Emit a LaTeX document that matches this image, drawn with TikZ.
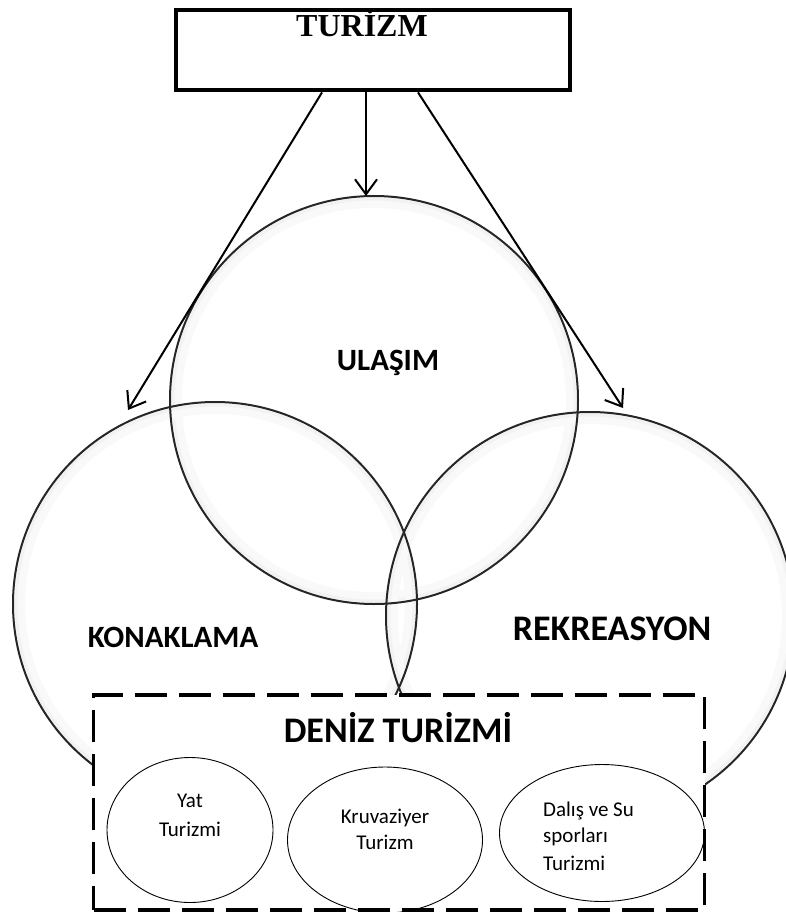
\documentclass[tikz,border=0pt]{standalone}
\usepackage{fontspec}
\setmainfont{Liberation Serif}
\newfontfamily\calibri{Carlito}
\usetikzlibrary{arrows.meta}
\usetikzlibrary{shapes.geometric}

\tikzset{
    venn/.style={circle,draw=black!85,line width=2pt,inner sep=0pt},
    glow/.style={gray!5,line width=10pt},
    headbox/.style={rectangle,draw,line width=4.8pt,inner sep=0pt,minimum width=394pt,minimum height=80pt},
    seabox/.style={rectangle,draw,fill=white,line width=3.8pt,dash pattern=on 32pt off 12pt,inner sep=0pt,minimum width=611pt,minimum height=215pt},
    kind/.style={ellipse,draw,line width=0.9pt,inner sep=0pt},
    pointer/.style={-{Straight Barb[length=15pt,width=22pt]},line width=2pt},
    biglabel/.style={anchor=base,font=\calibri\bfseries\fontsize{31}{36}\selectfont},
    smalltext/.style={font=\calibri\fontsize{21}{26}\selectfont,inner sep=0pt}
}

\begin{document}
\begin{tikzpicture}[x=1pt,y=-1pt]
            \useasboundingbox (0,0) rectangle (786,912);

            \coordinate (cU) at (374,400);
            \coordinate (cK) at (215,604);
            \coordinate (cR) at (590,616);

            % soft inner shadow of the three circles
            \foreach \c/\r in {cU/197,cK/195,cR/197} {
                \draw[glow] (\c) circle (\r);
                \draw[gray!10,line width=3pt] (\c) circle (\r+4);
            }
            \node[venn,minimum size=408pt] (ulasim) at (cU) {};
            \node[venn,minimum size=404pt] (konaklama) at (cK) {};
            \node[venn,minimum size=408pt] (rekreasyon) at (cR) {};

            \node[biglabel] (ulasimtext) at (388,370) {ULAŞIM};
            \node[biglabel] (konaklamatext) at (173,647) {KONAKLAMA};
            \node[biglabel,font=\calibri\bfseries\fontsize{36}{40}\selectfont] (rekreasyontext) at (612,640) {REKREASYON};

            \node[headbox] (turizm) at (373,50) {};
            \node[anchor=base,font=\bfseries\fontsize{32}{36}\selectfont] (turizmtext) at (362,37) {TURİZM};

            \coordinate (tipK) at (128,410);
            \coordinate (tipU) at (366,196);
            \coordinate (tipR) at (623,408);
            \draw[pointer] ([xshift=-51pt]turizm.south) -- (tipK);
            \draw[pointer] ([xshift=-7pt]turizm.south) -- (tipU);
            \draw[pointer] ([xshift=45pt]turizm.south) -- (tipR);

            \node[seabox] (deniz) at (399,802.5) {};
            \node[biglabel,font=\calibri\bfseries\fontsize{36}{40}\selectfont] (deniztext) at (398,742) {DENİZ TURİZMİ};

            \node[kind,minimum width=166pt,minimum height=145pt] (yat) at (190,830) {};
            \node[kind,minimum width=195pt,minimum height=146pt] (kruvaziyer) at (385,840) {};
            \node[kind,minimum width=205pt,minimum height=137pt] (dalis) at (602,833) {};

            \node[smalltext,align=center] (yattext) at (190,815) {Yat\\[3pt]Turizmi};
            \node[smalltext,align=center] (kruvaziyertext) at (385,829) {Kruvaziyer\\Turizm};
            \node[smalltext,align=left,anchor=west] (dalistext) at (543,836) {Dalış ve Su\\sporları\\[2pt]Turizmi};
        \end{tikzpicture}
\end{document}
